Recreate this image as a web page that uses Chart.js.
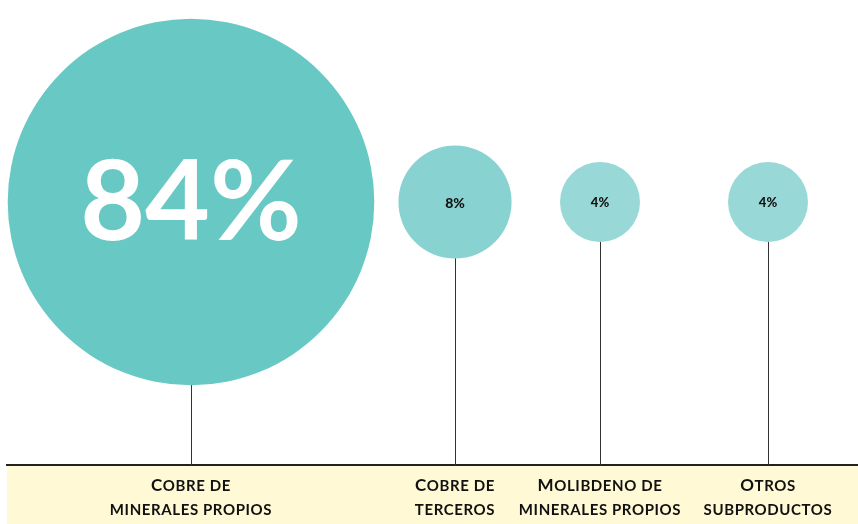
<!DOCTYPE html>
<html>
<head>
<meta charset="utf-8">
<script src="https://cdn.jsdelivr.net/npm/chart.js@4"></script>
<style>
  body { margin: 0; background: #fff; }
  #wrap { width: 858px; height: 524px; }
</style>
</head>
<body>
<div id="wrap"><canvas id="myChart"></canvas></div>
<script>
const ctx = document.getElementById('myChart');

// data
const categorias = [
    ['Cobre de', 'minerales propios'],
    ['Cobre de', 'terceros'],
    ['Molibdeno de', 'minerales propios'],
    ['Otros', 'subproductos']
];
const porcentajes = [84, 8, 4, 4];

// layout (where each bubble sits on the x axis) and colours
const posiciones = [191, 455, 600, 768];
const colores = ['#68c8c4', '#88d3d1', '#98d8d7', '#98d8d7'];

const radio = (v) => 20 * Math.sqrt(v);

const data = {
    datasets: [
        {
            label: 'Ventas',
            data: porcentajes.map((v, i) => ({ x: posiciones[i], y: 0, r: radio(v), v: v })),
            backgroundColor: colores,
            borderWidth: 0,
            hoverBorderWidth: 0,
            clip: false,
        }
    ]
};

// small caps by hand: capitals at full size, the rest as smaller capitals
const CAP = 'bold 17px Lato';
const SMALL = 'bold 15px Lato';

function trozos(texto) {
    const out = [];
    for (const ch of texto) {
        const grande = ch !== ch.toLowerCase();
        const last = out[out.length - 1];
        if (last && last.grande === grande) last.t += ch.toUpperCase();
        else out.push({ grande: grande, t: ch.toUpperCase() });
    }
    return out;
}

function smallCaps(c, texto, x, y) {
    const partes = trozos(texto);
    let ancho = 0;
    partes.forEach((p) => {
        c.font = p.grande ? CAP : SMALL;
        p.w = c.measureText(p.t).width;
        ancho += p.w;
    });
    let cx = x - ancho / 2;
    partes.forEach((p) => {
        c.font = p.grande ? CAP : SMALL;
        c.fillText(p.t, cx, y);
        cx += p.w;
    });
}

const bandaPlugin = {
    id: 'banda',
    beforeDraw(chart) {
        const c = chart.ctx;
        const a = chart.chartArea;
        c.save();
        c.fillStyle = '#fff9d6';
        c.fillRect(a.left, a.bottom, a.right - a.left, chart.height - a.bottom);
        c.restore();
    },
    beforeDatasetsDraw(chart) {
        const c = chart.ctx;
        const a = chart.chartArea;
        c.save();
        c.strokeStyle = '#333';
        c.lineWidth = 1;
        chart.getDatasetMeta(0).data.forEach((el) => {
            const x = Math.round(el.x) + 0.5;
            c.beginPath();
            c.moveTo(x, el.y);
            c.lineTo(x, a.bottom);
            c.stroke();
        });
        c.restore();
    },
    afterDatasetsDraw(chart) {
        const c = chart.ctx;
        c.save();
        c.textAlign = 'center';
        c.textBaseline = 'middle';
        chart.getDatasetMeta(0).data.forEach((el, i) => {
            const v = porcentajes[i];
            if (i === 0) {
                c.fillStyle = '#fff';
                c.font = 'bold 112px Lato';
                c.fillText(v + '%', el.x, el.y + 2);
            } else {
                c.fillStyle = '#111';
                c.font = (i === 1 ? '900 14px' : '900 13px') + ' Lato';
                c.fillText(v + '%', el.x, el.y + 1);
            }
        });
        c.restore();
    },
    afterDraw(chart) {
        const c = chart.ctx;
        const xs = chart.scales.x;
        const top = chart.chartArea.bottom;
        c.save();
        c.fillStyle = '#111';
        c.textAlign = 'left';
        c.textBaseline = 'alphabetic';
        c.letterSpacing = '0.6px';
        xs.ticks.forEach((t, i) => {
            const x = xs.getPixelForValue(t.value);
            categorias[i].forEach((linea, j) => {
                smallCaps(c, linea, x, top + 26 + j * 24);
            });
        });
        c.restore();
    }
};

new Chart(ctx, {
    type: 'bubble',
    data: data,
    plugins: [bandaPlugin],
    options: {
        responsive: true,
        maintainAspectRatio: false,
        animation: false,
        layout: {
            autoPadding: false,
            padding: { left: 7, right: 0, top: 0, bottom: 0 }
        },
        plugins: {
            legend: { display: false },
            tooltip: {
                callbacks: {
                    label: (item) => item.raw.v + '%'
                }
            }
        },
        scales: {
            x: {
                type: 'linear',
                min: 7,
                max: 858,
                afterBuildTicks: (scale) => {
                    scale.ticks = posiciones.map((p) => ({ value: p }));
                },
                afterFit: (scale) => {
                    scale.height = 59;
                },
                grid: { display: false, drawTicks: false },
                border: { display: true, color: '#222', width: 2 },
                ticks: { display: false }
            },
            y: {
                display: false,
                min: -263,
                max: 202
            }
        }
    }
});
</script>
</body>
</html>
